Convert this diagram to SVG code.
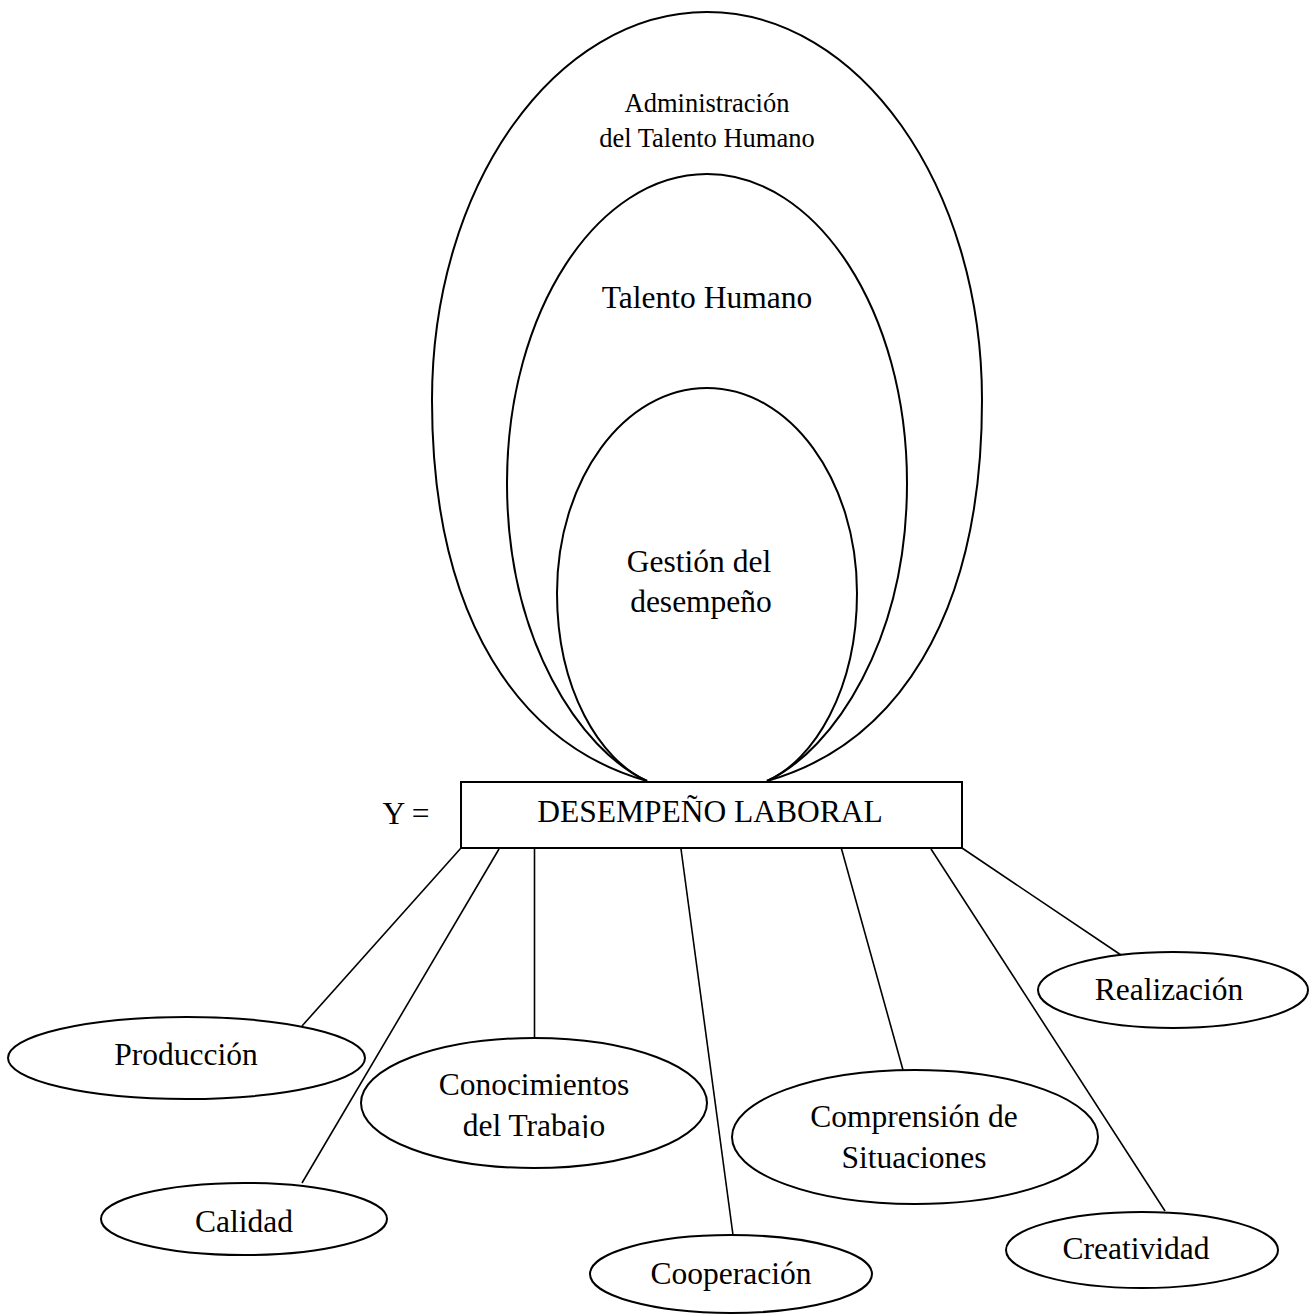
<svg xmlns="http://www.w3.org/2000/svg" width="1315" height="1315" viewBox="0 0 1315 1315">
<style>
.s{fill:none;stroke:#000;stroke-width:2}
.c{fill:none;stroke:#000;stroke-width:1.6}
.t{font-family:"Liberation Serif","Times New Roman",serif;font-size:31.5px;fill:#000;text-anchor:middle}
.ts{font-size:26.5px}
</style>
<defs>
<clipPath id="clipTrabajo"><rect x="360" y="1100" width="350" height="38"/></clipPath>
</defs>
<rect width="1315" height="1315" fill="#fff"/>
<g id="admin">
<path class="s" d="M647,781 C520,745 432,620 432,400 C432,186 555,12 707,12 C859,12 982,186 982,400 C982,620 894,745 767,781"/>
<text class="t ts" x="707" y="112">Administración</text>
<text class="t ts" x="707" y="147">del Talento Humano</text>
</g>
<g id="talento">
<path class="s" d="M647,781 C580,750 507,640 507,483 C507,312 597,174 707,174 C817,174 907,312 907,483 C907,640 834,750 767,781"/>
<text class="t" x="707" y="308">Talento Humano</text>
</g>
<g id="gestion">
<path class="s" d="M647,781 C600,760 557,690 557,593 C557,480 624,388 707,388 C790,388 857,480 857,593 C857,690 814,760 767,781"/>
<text class="t" x="699" y="572">Gestión del</text>
<text class="t" x="701" y="612">desempeño</text>
</g>
<g id="desempeno">
<text class="t" x="406" y="824">Y =</text>
<rect class="s" x="461" y="782" width="501" height="66" fill="#fff"/>
<text class="t" x="710" y="822">DESEMPEÑO LABORAL</text>
</g>
<g id="connectors">
<line class="c" x1="461" y1="848" x2="302" y2="1026"/>
<line class="c" x1="499" y1="849" x2="302" y2="1183"/>
<line class="c" x1="534.5" y1="848" x2="534.5" y2="1038"/>
<line class="c" x1="681" y1="849" x2="733" y2="1235"/>
<line class="c" x1="841" y1="847" x2="903" y2="1070"/>
<line class="c" x1="931" y1="849" x2="1165" y2="1211"/>
<line class="c" x1="962" y1="848" x2="1121" y2="955"/>
</g>
<g id="produccion">
<ellipse class="s" cx="186.5" cy="1058" rx="178.5" ry="41"/>
<text class="t" x="186" y="1065">Producción</text>
</g>
<g id="calidad">
<ellipse class="s" cx="244" cy="1219" rx="143" ry="36"/>
<text class="t" x="244" y="1232">Calidad</text>
</g>
<g id="conocimientos">
<ellipse class="s" cx="534" cy="1103" rx="173" ry="65"/>
<text class="t" x="534" y="1095">Conocimientos</text>
<text class="t" x="534" y="1136" clip-path="url(#clipTrabajo)">del Trabajo</text>
</g>
<g id="cooperacion">
<ellipse class="s" cx="731" cy="1274" rx="141" ry="39"/>
<text class="t" x="731" y="1284">Cooperación</text>
</g>
<g id="comprension">
<ellipse class="s" cx="915" cy="1137" rx="183" ry="67"/>
<text class="t" x="914" y="1127">Comprensión de</text>
<text class="t" x="914" y="1168">Situaciones</text>
</g>
<g id="realizacion">
<ellipse class="s" cx="1173" cy="990" rx="135" ry="38"/>
<text class="t" x="1169" y="1000">Realización</text>
</g>
<g id="creatividad">
<ellipse class="s" cx="1142" cy="1250" rx="136" ry="38"/>
<text class="t" x="1136" y="1259">Creatividad</text>
</g>
</svg>
